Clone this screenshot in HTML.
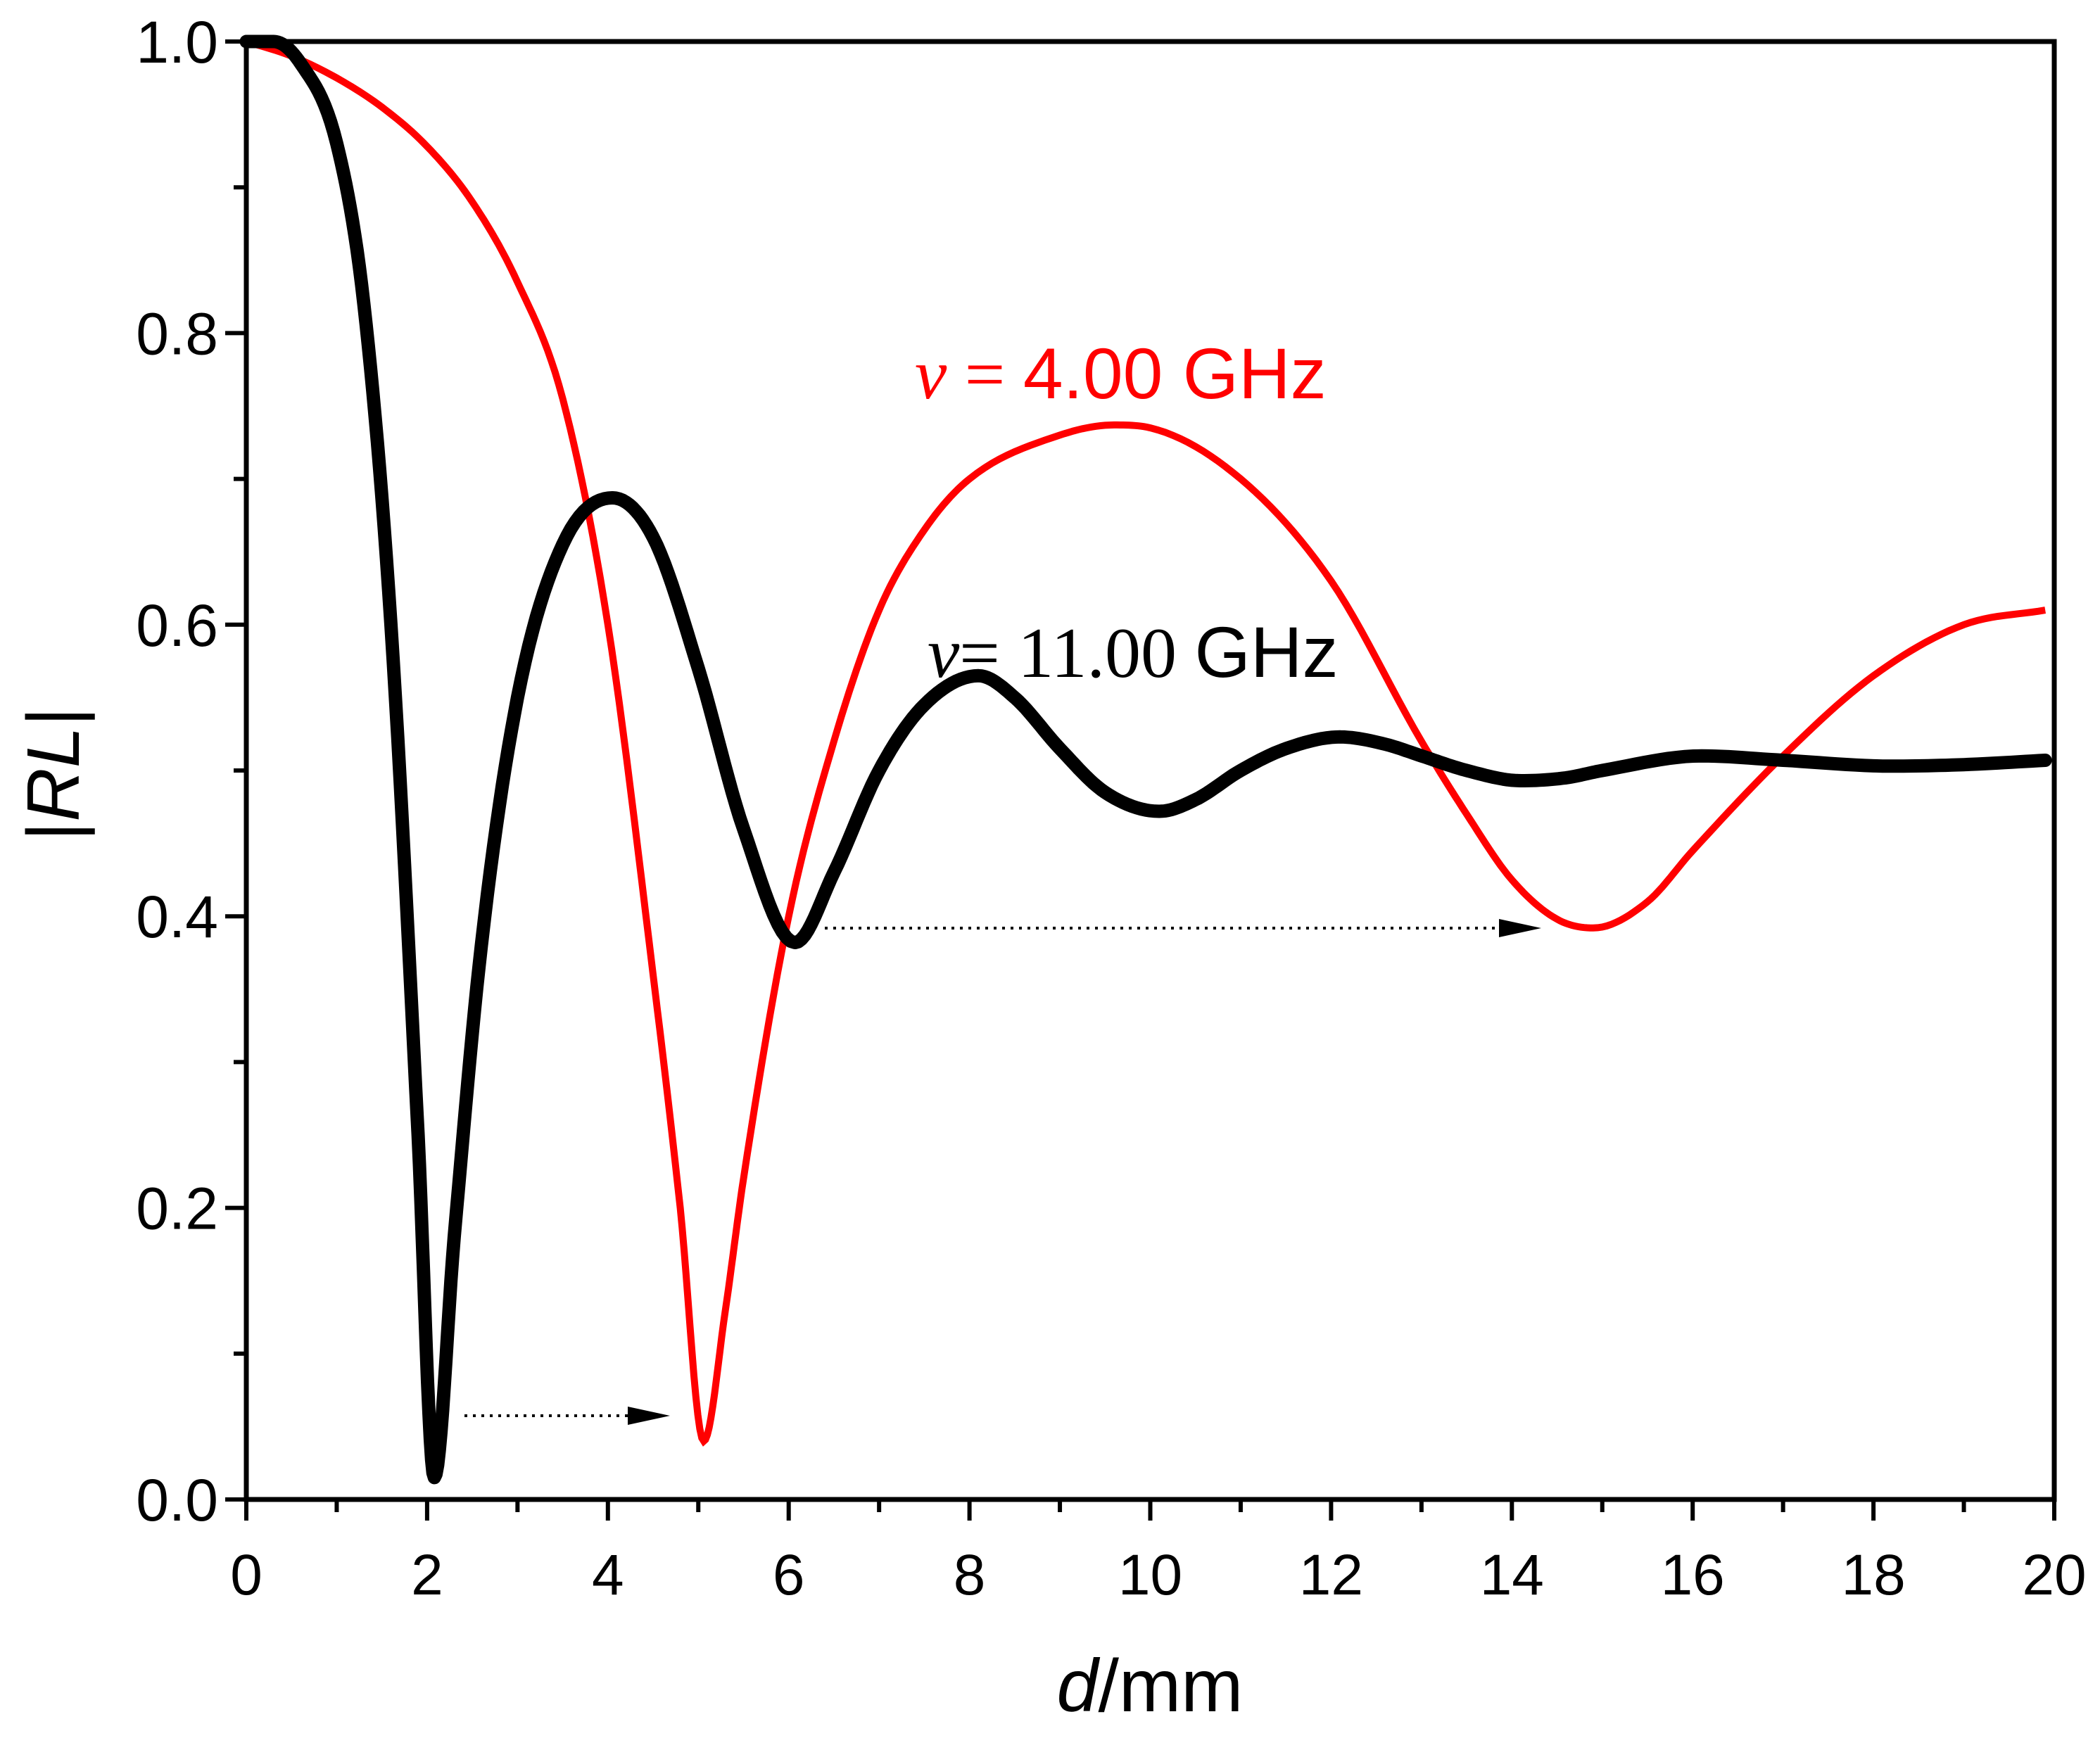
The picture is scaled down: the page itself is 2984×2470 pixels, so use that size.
<!DOCTYPE html>
<html><head><meta charset="utf-8"><style>
html,body{margin:0;padding:0;background:#fff;}
svg{display:block;}
text{font-family:"Liberation Sans",sans-serif;}
</style></head><body>
<svg id="chart" width="2984" height="2470" viewBox="0 0 2984 2470" xmlns="http://www.w3.org/2000/svg" style="position:absolute;left:0;top:0">
<g id="plot"></g>
<text x="1634" y="2432" text-anchor="middle" font-size="106" font-family="Liberation Sans, sans-serif"><tspan font-style="italic">d</tspan>/mm</text>
<text transform="translate(112,1100) rotate(-90)" text-anchor="middle" font-size="106" font-family="Liberation Sans, sans-serif">|<tspan font-style="italic">RL</tspan>|</text>
<text x="1300" y="566" font-size="102" fill="#ff0000" font-family="Liberation Sans, sans-serif"><tspan font-family="Liberation Serif, serif" font-style="italic">ν</tspan><tspan font-family="Liberation Serif, serif"> = </tspan>4.00 GHz</text>
<text x="1318" y="962" font-size="102" fill="#000" font-family="Liberation Sans, sans-serif"><tspan font-family="Liberation Serif, serif" font-style="italic">ν</tspan><tspan font-family="Liberation Serif, serif">= 11.00 </tspan>GHz</text>
</svg>
<script>
const xTicks=[0,2,4,6,8,10,12,14,16,18,20];
const yTicks=[0.0,0.2,0.4,0.6,0.8,1.0];
const yTickLabels=["0.0","0.2","0.4","0.6","0.8","1.0"];
const redX=[0,0.5,1,1.5,2,2.5,3,3.5,4,4.5,4.8,5.06,5.3,5.5,6,6.5,7,7.5,8,9,9.6,10,11,12,13,13.5,14,14.5,14.9,15.5,16,17,18,19,19.9];
const redY=[1,0.99,0.975,0.955,0.928,0.89,0.835,0.755,0.6,0.36,0.2,0.04,0.13,0.22,0.4,0.52,0.61,0.665,0.7,0.73,0.737,0.735,0.7,0.63,0.52,0.47,0.425,0.398,0.392,0.41,0.445,0.51,0.565,0.6,0.61];
const blackX=[0,0.3,0.6,1,1.3,1.6,1.9,2.08,2.3,2.6,3,3.5,4.05,4.5,5,5.5,6.07,6.5,7,7.5,8.1,8.5,9,9.5,10.1,10.5,11,11.5,12.1,12.6,13,13.5,14.1,14.6,15,16.1,17,18.2,19,19.9];
const blackY=[1,1,0.985,0.93,0.82,0.6,0.25,0.015,0.18,0.38,0.55,0.655,0.687,0.66,0.57,0.46,0.382,0.43,0.5,0.545,0.565,0.55,0.515,0.485,0.472,0.48,0.5,0.515,0.523,0.518,0.51,0.5,0.493,0.495,0.5,0.51,0.507,0.503,0.504,0.507];

const X0=350,X1=2919,Y0=2131,Y1=59;
const sx=v=>X0+(v-0)/(20-0)*(X1-X0);
const sy=v=>Y0-(v-0)/(1-0)*(Y0-Y1);
const NS="http://www.w3.org/2000/svg";
const g=document.getElementById('plot');
function mk(tag,attrs,parent){const e=document.createElementNS(NS,tag);for(const k in attrs)e.setAttribute(k,attrs[k]);(parent||g).appendChild(e);return e;}

function monoPath(xs,ys){
  const n=xs.length,d=[],m=new Array(n);
  for(let i=0;i<n-1;i++)d.push((ys[i+1]-ys[i])/(xs[i+1]-xs[i]));
  m[0]=d[0];m[n-1]=d[n-2];
  for(let i=1;i<n-1;i++){m[i]=(d[i-1]*d[i]<=0)?0:(d[i-1]+d[i])/2;}
  for(let i=0;i<n-1;i++){
    if(d[i]===0){m[i]=0;m[i+1]=0;continue;}
    const a=m[i]/d[i],b=m[i+1]/d[i],s=a*a+b*b;
    if(s>9){const t=3/Math.sqrt(s);m[i]=t*a*d[i];m[i+1]=t*b*d[i];}
  }
  let p="M"+sx(xs[0]).toFixed(1)+","+sy(ys[0]).toFixed(1);
  for(let i=0;i<n-1;i++){
    const h=xs[i+1]-xs[i];
    for(let k=1;k<=12;k++){
      const t=k/12,t2=t*t,t3=t2*t;
      const y=(2*t3-3*t2+1)*ys[i]+(t3-2*t2+t)*h*m[i]+(-2*t3+3*t2)*ys[i+1]+(t3-t2)*h*m[i+1];
      p+=" L"+sx(xs[i]+t*h).toFixed(1)+","+sy(y).toFixed(1);
    }
  }
  return p;
}

const rp=mk('path',{d:monoPath(redX,redY),fill:'none',stroke:'#ff0000','stroke-width':10,'stroke-linejoin':'miter'});


const bp=mk('path',{d:monoPath(blackX,blackY),fill:'none',stroke:'#000','stroke-width':19,'stroke-linejoin':'round','stroke-linecap':'round'});



function arrow(x1,x2,y,name){
  const l=mk('line',{x1:x1,y1:y,x2:x2-55,y2:y,stroke:'#000','stroke-width':4,'stroke-dasharray':'4 8'});
  
  
  const h=mk('polygon',{points:`${x2-60},${y-13} ${x2},${y} ${x2-60},${y+13}`,fill:'#000'});
  
  
}
arrow(660,952,2012,'shift-arrow-1');
arrow(1172,2190,1319,'shift-arrow-2');

const fr=mk('rect',{x:X0,y:Y1,width:X1-X0,height:Y0-Y1,fill:'none',stroke:'#000','stroke-width':7});



for(let v=0;v<=20;v++){
  const major=v%2===0;
  const t=mk('line',{x1:sx(v),x2:sx(v),y1:Y0,y2:Y0+(major?30:18),stroke:'#000','stroke-width':6});
  
  
}
xTicks.forEach(v=>{
  const t=mk('text',{x:sx(v),y:2266,'text-anchor':'middle','font-size':82});
  t.textContent=String(v);
  
  
});
for(let i=0;i<=10;i++){
  const v=i/10,major=i%2===0;
  const t=mk('line',{x1:X0,x2:X0-(major?30:18),y1:sy(v),y2:sy(v),stroke:'#000','stroke-width':6});
  
  
}
yTicks.forEach((v,i)=>{
  const t=mk('text',{x:310,y:sy(v)+30,'text-anchor':'end','font-size':84});
  t.textContent=yTickLabels[i];
  
  
});
</script>
</body></html>
